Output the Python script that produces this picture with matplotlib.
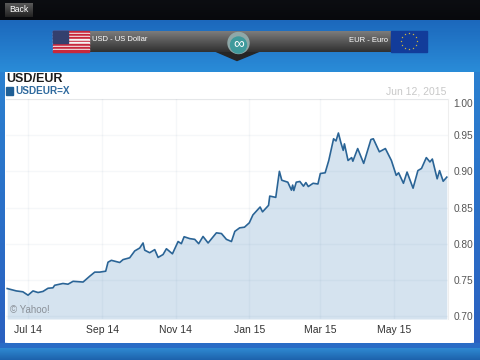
import numpy as np
import pandas as pd
import matplotlib
import matplotlib.pyplot as plt
from matplotlib.patches import Rectangle, FancyBboxPatch, Polygon, Circle

matplotlib.use('agg')
plt.rcParams['font.family'] = ['Liberation Sans', 'DejaVu Sans']

# days after 1 Jul 2014
days = [-17, -9.4, -4, 0.3, 4.4, 8.6, 12.7, 16.9, 21, 22.4, 29.3, 33.5, 37.7, 46, 51.5, 55.7, 59.8, 64.8,
        66.7, 69.5, 76.4, 79.2, 84.7, 88.9, 93, 95.8, 97.2, 101.3, 105.5, 108.3, 112.4, 115.2, 120.2,
        124.9, 127.6, 129.9, 134.6, 138.7, 142, 145.6, 149.8, 156.7, 160.9, 165, 169.2, 172,
        176, 180, 184, 187, 193, 195, 200, 201, 206, 209, 211, 216, 219, 220, 221, 223, 226, 229, 231,
        233, 237, 241, 243, 247, 250, 254, 256, 258, 260, 262, 263, 266, 269, 270, 274, 279, 285, 287,
        292, 297, 302, 306, 308, 312, 315, 320, 324, 327, 331, 334, 336, 340, 342, 345, 348]
rates = [.738, .7347, .7335, .7288, .7347, .7325, .734, .7384, .739, .7425, .745, .744, .748, .747, .755,
         .7607, .7607, .762, .7744, .777, .774, .778, .7805, .79, .794, .801, .791, .7875, .7918, .781,
         .785, .793, .786, .803, .800, .8096, .807, .806, .80, .81, .801, .815, .814, .806, .803, .817,
         .8219, .8228, .8288, .8397, .8507, .844, .853, .8658, .864, .900, .8877, .885, .874, .881, .8735,
         .885, .886, .8795, .8845, .879, .8835, .8825, .897, .898, .915, .945, .942, .953, .94, .929, .938,
         .915, .919, .914, .9315, .911, .944, .945, .927, .9315, .915, .8945, .898, .8835, .899, .8767,
         .901, .904, .919, .913, .917, .8897, .901, .8863, .892]
tick_dates = ['2014-07-01', '2014-09-01', '2014-11-01', '2015-01-01', '2015-03-01', '2015-05-01']
tick_labels = ['Jul 14', 'Sep 14', 'Nov 14', 'Jan 15', 'Mar 15', 'May 15']
y_ticks = [0.70, 0.75, 0.80, 0.85, 0.90, 0.95, 1.00]

W, H = 480, 360
fig = plt.figure(figsize=(4.8, 3.6), dpi=100)

# app screen behind the chart, in pixel coordinates
bg = fig.add_axes([0, 0, 1, 1])


def vgrad(ax, x0, x1, y0, y1, top, bottom, z=1):
    c = matplotlib.colors.LinearSegmentedColormap.from_list('g', [top, bottom])
    ax.imshow(np.linspace(0, 1, 64).reshape(-1, 1), cmap=c, extent=[x0, x1, y1, y0],
              aspect='auto', zorder=z)


vgrad(bg, 0, W, 0, 20, '#0c0e12', '#08090c')
vgrad(bg, 0, W, 20, 72, '#1c68bc', '#2a8cd8')
vgrad(bg, 0, 5, 72, 346, '#2a80d0', '#2a60c0', z=2)
vgrad(bg, 474, W, 72, 346, '#2a80d0', '#2a60c0', z=2)
bg.add_patch(Rectangle((0, 343), W, 5, color='#2a6cc6', zorder=2))
vgrad(bg, 0, W, 348, 360, '#2f8ad2', '#1d62ac', z=2)

# back button
vgrad(bg, 5, 33, 3, 17, '#5a5a5a', '#222222', z=3)
bg.text(19, 10, 'Back', color='white', fontsize=6.2, ha='center', va='center', zorder=4)

# currency banner
bg.add_patch(Polygon([(215, 51), (260, 51), (237, 60.5)], color='#262626', zorder=3))
vgrad(bg, 53, 427, 31, 52, '#7c7c7c', '#303030', z=3)
bg.text(92, 39.5, 'USD - US Dollar', color='white', fontsize=5.5, ha='left', va='center', zorder=5)
bg.text(388, 40.5, 'EUR - Euro', color='white', fontsize=5.5, ha='right', va='center', zorder=5)
bg.add_patch(Circle((238.5, 43), 10.5, color='#8fa8a8', zorder=5))
bg.add_patch(Circle((238.5, 45), 8, color='#3f9a9c', zorder=6))
bg.text(238.5, 43.5, '∞', color='white', fontsize=11, ha='center', va='center', zorder=7)

# US flag
for i in range(13):
    bg.add_patch(Rectangle((53, 31 + i * 21 / 13), 36, 21 / 13,
                           color='#c8283c' if i % 2 == 0 else '#f4f4f4', zorder=5))
bg.add_patch(Rectangle((53, 31), 15, 11.5, color='#34406e', zorder=6))
# EU flag
bg.add_patch(Rectangle((391, 31), 36, 21, color='#123c9a', zorder=5))
ang = np.arange(12) * np.pi / 6
bg.scatter(409 + 8 * np.cos(ang), 41 + 8 * np.sin(ang), s=2.5, color='#e8c832', marker='*', zorder=6, lw=0)

# white card
bg.add_patch(FancyBboxPatch((5, 72), 469, 271, boxstyle='round,pad=0,rounding_size=4',
                            fc='white', ec='none', zorder=3))
bg.text(6, 78.5, 'USD/EUR', color='#1c1c1c', fontsize=9, fontweight='bold', ha='left', va='center', zorder=4)
bg.add_patch(Rectangle((6, 87), 7, 8, color='#1f5f96', zorder=4))
bg.text(15.5, 91, 'USDEUR=X', color='#2f6a9e', fontsize=7.2, fontweight='bold', ha='left', va='center', zorder=4)
bg.text(446, 91, 'Jun 12, 2015', color='#c8c8c8', fontsize=7.5, ha='right', va='center', zorder=4)

bg.set_xlim(0, W)
bg.set_ylim(H, 0)
bg.axis('off')

# the chart itself
x_left, x_right, y_top, y_bottom = 6, 448, 99, 319
ax = fig.add_axes([x_left / W, 1 - y_bottom / H, (x_right - x_left) / W, (y_bottom - y_top) / H])
ax.patch.set_alpha(0)

dates = pd.Timestamp('2014-07-01') + pd.to_timedelta(days, unit='D')
ticks = pd.to_datetime(tick_dates)

ax.fill_between(dates, rates, 0.6959, color='#d5e3ef', lw=0, zorder=1)
ax.plot(dates, rates, color='#2a6496', lw=1.2, zorder=3)

ax.set_xlim(pd.Timestamp('2014-06-13'), pd.Timestamp('2015-06-15'))
ax.set_ylim(0.6959, 1.0)
ax.set_xticks(ticks, tick_labels)
ax.yaxis.tick_right()
ax.set_yticks(y_ticks, [f'{v:.2f}' for v in y_ticks])
ax.get_yticklabels()[-1].set_va('top')
ax.tick_params(length=0, labelsize=7.5, labelcolor='#333333')
ax.tick_params(axis='x', pad=4)
ax.tick_params(axis='y', pad=4, labelsize=7.3, labelcolor='#555555')
ax.grid(True, color='#5a7fa0', alpha=0.06, lw=1, zorder=2)
ax.set_axisbelow(False)
for s in ax.spines.values():
    s.set_visible(False)
ax.spines['top'].set_visible(True)
ax.spines['top'].set_color('#eeeeee')
ax.spines['right'].set_visible(True)
ax.spines['right'].set_color('#eeeeee')
ax.text(0.01, 0.04, '© Yahoo!', transform=ax.transAxes, color='#8a9098', fontsize=7,
        ha='left', va='center', zorder=4)

fig.savefig('out.png', dpi=100)
